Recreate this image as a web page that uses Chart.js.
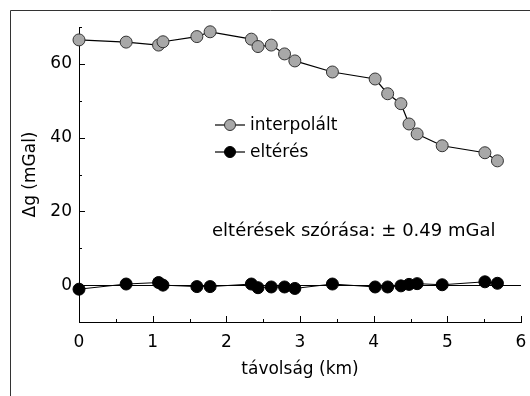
<!DOCTYPE html>
<html>
<head>
<meta charset="utf-8">
<script src="https://cdn.jsdelivr.net/npm/chart.js@4"></script>
<style>
  html, body { margin: 0; padding: 0; background: #fff; }
  #wrap { width: 530px; height: 396px; }
</style>
</head>
<body>
<div id="wrap"><canvas id="gravChart" width="530" height="396"></canvas></div>
<script>
// distance along profile (km)
let distance = [0.00, 0.64, 1.08, 1.14, 1.60, 1.78, 2.34, 2.43, 2.61, 2.79, 2.93, 3.44, 4.02, 4.19, 4.37, 4.48, 4.59, 4.93, 5.51, 5.68];
// interpolated anomaly (mGal)
let interpolated = [66.5, 65.9, 65.1, 66.0, 67.4, 68.7, 66.7, 64.7, 65.1, 62.7, 60.8, 57.8, 55.9, 51.9, 49.2, 43.7, 41.0, 37.8, 35.9, 33.7];
// deviation (mGal)
let deviation = [-1.1, 0.3, 0.7, 0.0, -0.4, -0.4, 0.3, -0.7, -0.5, -0.5, -0.9, 0.3, -0.5, -0.5, -0.2, 0.2, 0.4, 0.1, 0.9, 0.5];

let xTickLabels = [0, 1, 2, 3, 4, 5, 6];
let yTickLabels = [0, 20, 40, 60];

let seriesNames = ["interpolált", "eltérés"];
let noteText = "eltérések szórása: ± 0.49 mGal";

const FONT = "'DejaVu Sans', sans-serif";

function toPoints(xs, ys) {
    return xs.map((x, i) => ({ x: x, y: ys[i] }));
}

// frame, inward ticks, legend and note
const extras = {
    id: "extras",
    afterDraw(chart) {
        const ctx = chart.ctx;
        const xs = chart.scales.x, ys = chart.scales.y;
        const area = chart.chartArea;
        ctx.save();

        // outer frame (only top and left visible)
        ctx.strokeStyle = "#333";
        ctx.lineWidth = 1;
        ctx.beginPath();
        ctx.moveTo(10.5, 396);
        ctx.lineTo(10.5, 10.5);
        ctx.lineTo(530, 10.5);
        ctx.stroke();

        // ticks pointing inward
        ctx.strokeStyle = "#000";
        ctx.beginPath();
        xs.ticks.forEach(t => {
            let px = Math.round(xs.getPixelForValue(t.value)) + 0.5;
            let len = xTickLabels.includes(t.value) ? 6 : 3;
            ctx.moveTo(px, area.bottom);
            ctx.lineTo(px, area.bottom - len);
        });
        ys.ticks.forEach(t => {
            if (t.value < 0) return;
            let py = Math.round(ys.getPixelForValue(t.value)) + 0.5;
            let len = yTickLabels.includes(t.value) ? 6 : 3;
            ctx.moveTo(area.left, py);
            ctx.lineTo(area.left + len, py);
        });
        ctx.stroke();

        // legend
        ctx.font = "17px " + FONT;
        ctx.textBaseline = "middle";
        ctx.fillStyle = "#000";
        chart.data.datasets.forEach((ds, i) => {
            let y = 125 + i * 27;
            ctx.strokeStyle = "#000";
            ctx.lineWidth = 1.2;
            ctx.beginPath();
            ctx.moveTo(215, y);
            ctx.lineTo(245, y);
            ctx.stroke();
            ctx.beginPath();
            ctx.arc(230, y, 5.5, 0, Math.PI * 2);
            ctx.fillStyle = ds.pointBackgroundColor;
            ctx.fill();
            ctx.lineWidth = 1;
            ctx.strokeStyle = ds.pointBorderColor;
            ctx.stroke();
            ctx.fillStyle = "#000";
            ctx.fillText(ds.label, 250, y + 1);
        });

        // note
        ctx.font = "18px " + FONT;
        ctx.fillText(noteText, 212, 231);
        ctx.restore();
    }
};

new Chart(document.getElementById("gravChart"), {
    type: "line",
    data: {
        datasets: [{
            label: seriesNames[0],
            data: toPoints(distance, interpolated),
            borderColor: "#000",
            borderWidth: 1.2,
            pointBackgroundColor: "#a8a8a8",
            pointBorderColor: "#333",
            pointBorderWidth: 1,
            pointRadius: 6,
            tension: 0,
            clip: false
        }, {
            label: seriesNames[1],
            data: toPoints(distance, deviation),
            borderColor: "#000",
            borderWidth: 1,
            pointBackgroundColor: "#000",
            pointBorderColor: "#000",
            pointBorderWidth: 1,
            pointRadius: 6,
            tension: 0,
            clip: false
        }]
    },
    options: {
        responsive: false,
        animation: false,
        devicePixelRatio: 1,
        layout: { padding: { left: 16, right: 9, top: 27, bottom: 12 } },
        plugins: { legend: { display: false }, tooltip: { enabled: false } },
        scales: {
            x: {
                type: "linear",
                min: 0,
                max: 6,
                afterFit: s => { s.height = 62; s.paddingLeft = 0; s.paddingRight = 0; },
                border: { color: "#000", width: 1 },
                grid: { display: false, drawTicks: false },
                ticks: {
                    stepSize: 0.5,
                    padding: 10,
                    color: "#000",
                    font: { family: FONT, size: 17 },
                    maxRotation: 0,
                    autoSkip: false,
                    callback: v => xTickLabels.includes(v) ? String(v) : ""
                },
                title: {
                    display: true,
                    text: "távolság (km)",
                    color: "#000",
                    font: { family: FONT, size: 17 }
                }
            },
            y: {
                min: -10,
                max: 70,
                afterFit: s => { s.width = 63; },
                border: { color: "#000", width: 1 },
                grid: {
                    drawTicks: false,
                    color: c => (c.tick && c.tick.value === 0) ? "#000" : "rgba(0,0,0,0)",
                    lineWidth: 1
                },
                ticks: {
                    stepSize: 10,
                    padding: 7,
                    color: "#000",
                    font: { family: FONT, size: 17 },
                    autoSkip: false,
                    callback: v => yTickLabels.includes(v) ? String(v) : ""
                },
                title: {
                    display: true,
                    text: "Δg (mGal)",
                    color: "#000",
                    font: { family: FONT, size: 17 }
                }
            }
        }
    },
    plugins: [extras]
});
</script>
</body>
</html>
